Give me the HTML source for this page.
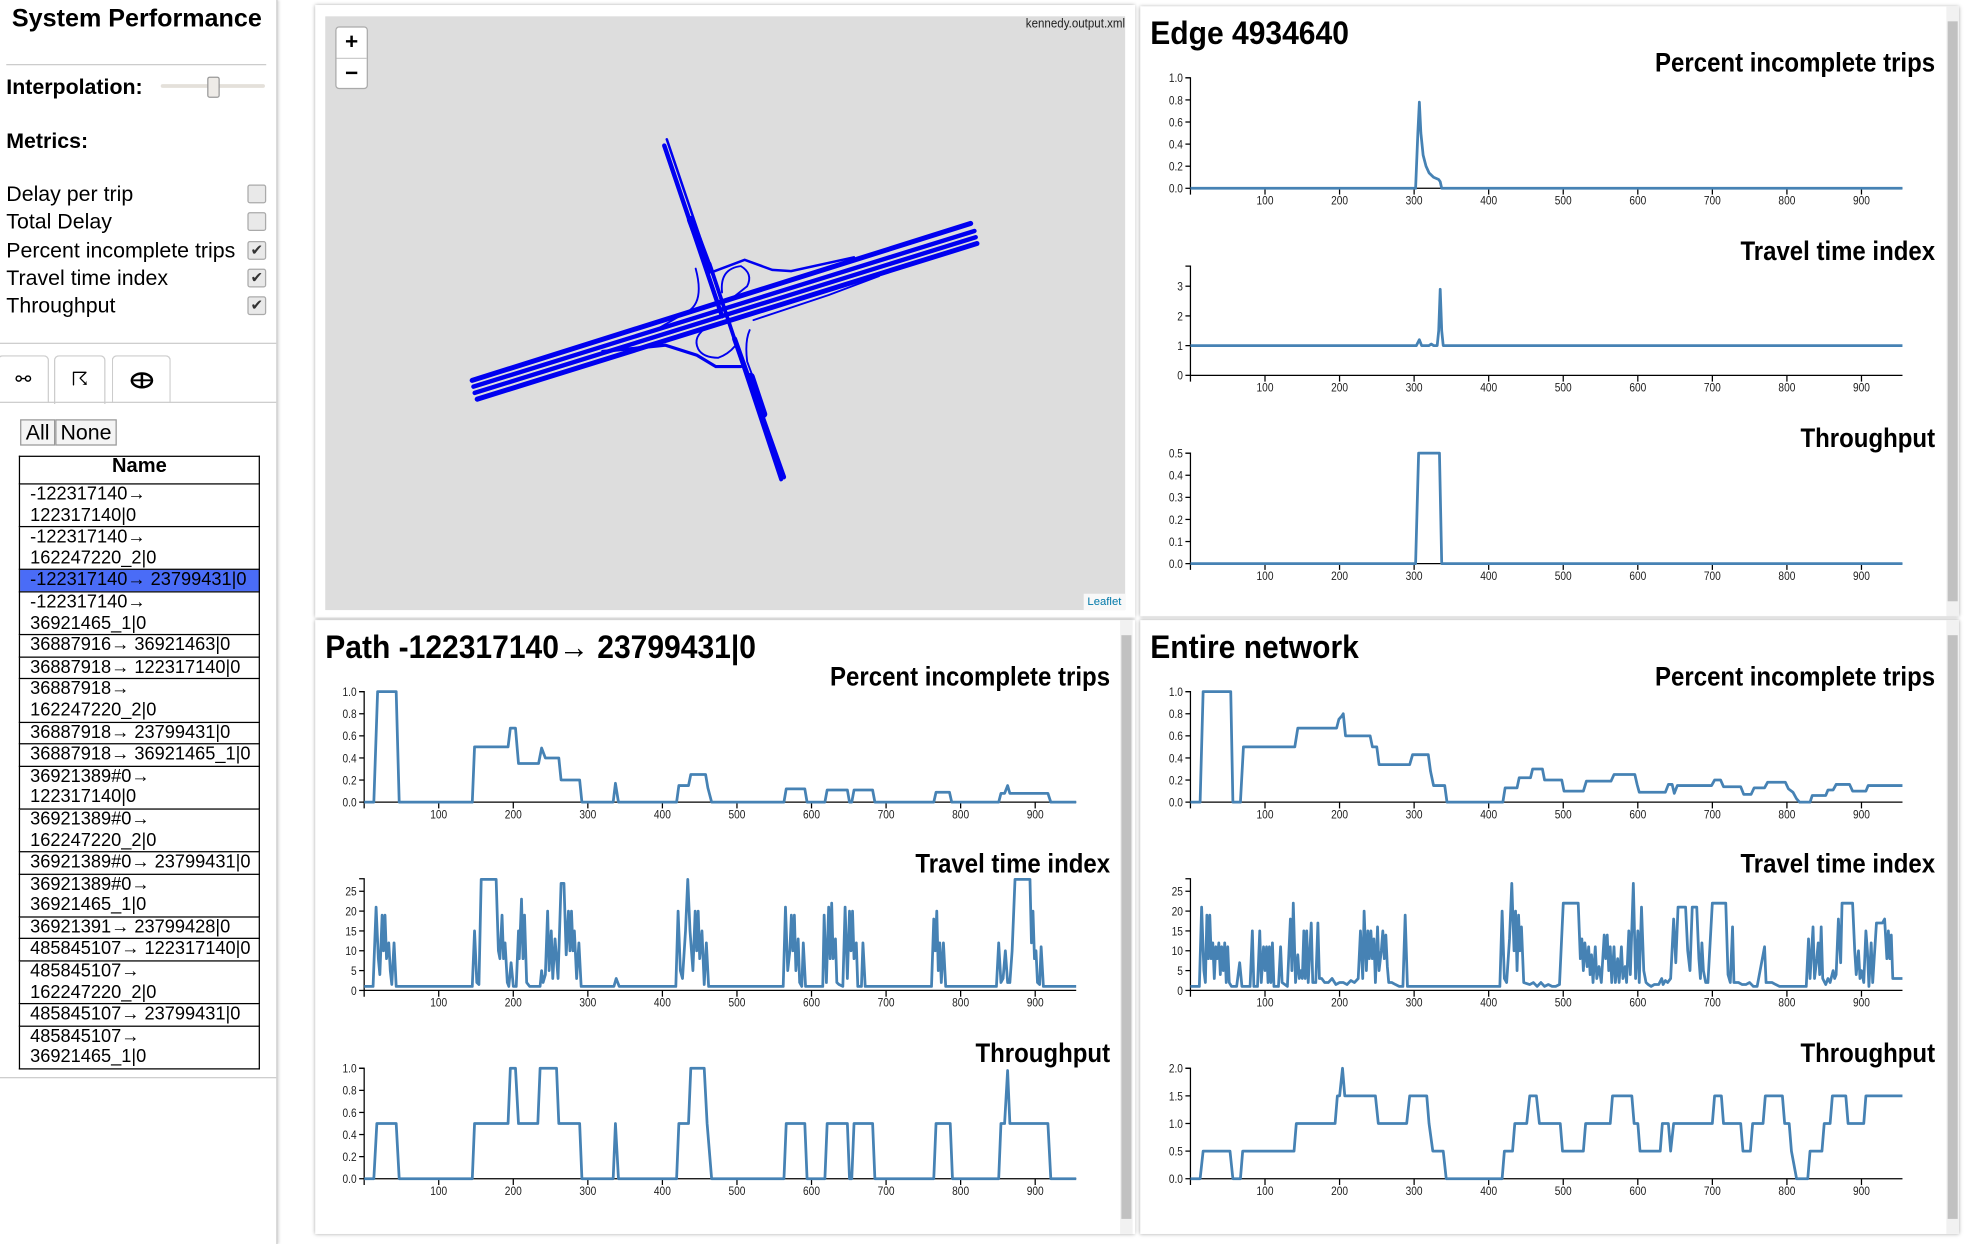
<!DOCTYPE html>
<html><head><meta charset="utf-8">
<style>
html,body{margin:0;padding:0;background:#fff;overflow:hidden;width:1969px;height:1244px}
#wrap{position:absolute;left:0;top:0;width:1568px;height:991px;transform-origin:0 0;transform:scale(1.25574,1.25530);font-family:"Liberation Sans",sans-serif;color:#000}
.abs{position:absolute}
.panel{position:absolute;background:#fff;box-shadow:0 0 3px rgba(0,0,0,0.35)}
.cb{position:absolute;left:197px;width:13px;height:13px;border:1px solid #aaa;border-radius:2px;background:#e9e9e9;font-size:12px;line-height:13px;text-align:center;color:#333}
.lbl{position:absolute;left:5px;font-size:17px}
.tab{position:absolute;top:283px;height:37px;border:1px solid #ccc;border-bottom:none;border-radius:4px 4px 0 0;background:#fff;text-align:center;font-size:15px;line-height:37px}
table{border-collapse:collapse;position:absolute;left:15px;top:363px;width:192px;font-size:14.5px;line-height:16.6px}
td,th{border:1px solid #000;padding:0 0 0 8px;text-align:left;vertical-align:top}
th{text-align:center;font-size:16px;height:21px;padding:0}
tr.sel td{background:#4a6cf7;color:#000}
.sb{position:absolute;width:10px;background:#f1f1f1}
.sb div{position:absolute;left:1px;width:8px;background:#c1c1c1}
</style></head><body>
<div id="wrap">
<div class="abs" style="left:0;top:0;width:220px;height:991px;border-right:1px solid #ccc;box-shadow:1px 0 2px rgba(0,0,0,0.15)">
  <div class="abs" style="left:0;width:218px;top:4px;text-align:center;font-weight:bold;font-size:20px">System Performance</div>
  <div class="abs" style="left:5px;top:51px;width:207px;height:1px;background:#ccc"></div>
  <div class="abs" style="left:5px;top:60px;font-weight:bold;font-size:17px">Interpolation:</div>
  <div class="abs" style="left:128px;top:67px;width:83px;height:3px;background:#e4e0da;border-radius:2px"></div>
  <div class="abs" style="left:165px;top:61px;width:8px;height:15px;background:#eeebe7;border:1px solid #999;border-radius:2px"></div>
  <div class="abs" style="left:5px;top:103px;font-weight:bold;font-size:17px">Metrics:</div>
  <div class="lbl" style="top:145px">Delay per trip</div>
  <div class="cb" style="top:147px"></div>
  <div class="lbl" style="top:167px">Total Delay</div>
  <div class="cb" style="top:169px"></div>
  <div class="lbl" style="top:190px">Percent incomplete trips</div>
  <div class="cb" style="top:192px">✔</div>
  <div class="lbl" style="top:212px">Travel time index</div>
  <div class="cb" style="top:214px">✔</div>
  <div class="lbl" style="top:234px">Throughput</div>
  <div class="cb" style="top:236px">✔</div>
  <div class="abs" style="left:0;top:273px;width:220px;height:1px;background:#ccc"></div>
  <div class="tab" style="left:-2px;width:39px">⚯</div>
  <div class="tab" style="left:43px;width:39px;height:38px">☈</div>
  <div class="tab" style="left:89px;width:45px"><svg width="20" height="14" style="margin-top:12px"><ellipse cx="10" cy="7" rx="8" ry="5.5" fill="none" stroke="#000" stroke-width="2"/><line x1="10" y1="1" x2="10" y2="13" stroke="#000" stroke-width="2"/><line x1="3" y1="7" x2="17" y2="7" stroke="#000" stroke-width="1.5"/></svg></div>
  <div class="abs" style="left:0;top:320px;width:220px;height:1px;background:#ccc"></div>
  <div class="abs" style="left:16px;top:334px;width:26px;height:19px;border:1px solid #999;background:#f4f4f4;font-size:17px;line-height:19px;text-align:center">All</div>
  <div class="abs" style="left:44px;top:334px;width:47px;height:19px;border:1px solid #999;background:#f4f4f4;font-size:17px;line-height:19px;text-align:center">None</div>
  <table>
    <tr><th>Name</th></tr>
    <tr><td>-122317140→<br>122317140|0</td></tr>
    <tr><td>-122317140→<br>162247220_2|0</td></tr>
    <tr class="sel"><td>-122317140→ 23799431|0</td></tr>
    <tr><td>-122317140→<br>36921465_1|0</td></tr>
    <tr><td>36887916→ 36921463|0</td></tr>
    <tr><td>36887918→ 122317140|0</td></tr>
    <tr><td>36887918→<br>162247220_2|0</td></tr>
    <tr><td>36887918→ 23799431|0</td></tr>
    <tr><td>36887918→ 36921465_1|0</td></tr>
    <tr><td>36921389#0→<br>122317140|0</td></tr>
    <tr><td>36921389#0→<br>162247220_2|0</td></tr>
    <tr><td>36921389#0→ 23799431|0</td></tr>
    <tr><td>36921389#0→<br>36921465_1|0</td></tr>
    <tr><td>36921391→ 23799428|0</td></tr>
    <tr><td>485845107→ 122317140|0</td></tr>
    <tr><td>485845107→<br>162247220_2|0</td></tr>
    <tr><td>485845107→ 23799431|0</td></tr>
    <tr><td>485845107→<br>36921465_1|0</td></tr>
  </table>
  <div class="abs" style="left:0;top:858px;width:220px;height:1px;background:#ccc"></div>
</div>

<div class="panel" style="left:251px;top:4px;width:653px;height:488px">
  <div class="abs" style="left:8px;top:9px;width:637px;height:473px;background:#ddd;overflow:hidden">
    <svg width="637" height="473" style="position:absolute;left:0;top:0">
      <g stroke="#0000f0" fill="none" stroke-linecap="round" transform="translate(-259,-13)">
        <line x1="376" y1="303" x2="773" y2="178" stroke-width="4"/>
        <line x1="377" y1="308" x2="776" y2="184" stroke-width="3.5"/>
        <line x1="378" y1="313" x2="777" y2="189" stroke-width="3.5"/>
        <line x1="380" y1="318" x2="778" y2="194" stroke-width="4"/>
        <line x1="531" y1="111" x2="595" y2="300" stroke-width="2"/>
        <line x1="529" y1="116" x2="575" y2="252" stroke-width="3.5"/>
        <line x1="550" y1="175" x2="565" y2="215" stroke-width="6"/>
        <line x1="565" y1="210" x2="622" y2="382" stroke-width="3"/>
        <line x1="585" y1="270" x2="624" y2="380" stroke-width="4"/>
        <line x1="598" y1="300" x2="608" y2="330" stroke-width="6"/>
        <path d="M554 214 Q561 240 548 248 L520 264 L460 283" stroke-width="1.5"/>
        <path d="M564 260 Q551 268 556 278 Q560 285 572 285 Q580 282 585 276" stroke-width="1.5"/>
        <path d="M575 233 Q573 214 590 212 Q600 218 595 228 L580 240" stroke-width="1.5"/>
        <path d="M569 216 L593 207 L615 215 L630 216 L680 205" stroke-width="2"/>
        <path d="M597 263 Q593 272 595 288 L605 315" stroke-width="1.5"/>
        <path d="M600 255 L660 235 L700 220" stroke-width="1.5"/>
        <path d="M480 280 L530 275 L555 283 L570 292 L590 292" stroke-width="2.5"/>
      </g>
    </svg>
    <div class="abs" style="left:8px;top:8px;width:24px;height:48px;border:1px solid #aaa;border-radius:3px;background:#fff">
      <div style="height:24px;border-bottom:1px solid #ccc;text-align:center;font:bold 18px/23px 'Liberation Sans',sans-serif">+</div>
      <div style="height:23px;text-align:center;font:bold 18px/22px 'Liberation Sans',sans-serif">−</div>
    </div>
    <div class="abs" style="right:0;top:1px;font-size:10px;color:#222;transform:scaleX(0.92);transform-origin:right">kennedy.output.xml</div>
    <div class="abs" style="right:0;bottom:0;padding:0 3px;background:rgba(255,255,255,0.8);font-size:9px;color:#0078A8;line-height:13px">Leaflet</div>
  </div>
</div>
<div class="panel" style="left:908px;top:5px;width:652px;height:486px">
  <div class="sb" style="left:642px;top:0;height:486px"><div style="top:12px;height:462px"></div></div>
</div>
<div class="panel" style="left:251px;top:494px;width:653px;height:489px">
  <div class="sb" style="left:641px;top:0;height:489px"><div style="top:12px;height:465px"></div></div>
</div>
<div class="panel" style="left:908px;top:494px;width:652px;height:489px">
  <div class="sb" style="left:642px;top:0;height:489px"><div style="top:12px;height:465px"></div></div>
</div>

<svg id="charts" width="1568" height="991" style="position:absolute;left:0;top:0;pointer-events:none"></svg>
</div>

<script>
const xTicks = [100,200,300,400,500,600,700,800,900];
const pitTicks = [0,0.2,0.4,0.6,0.8,1.0];
const tputTicksEdge = [0,0.1,0.2,0.3,0.4,0.5];
const ttiTicksEdge = [0,1,2,3];
const ttiTicks = [0,5,10,15,20,25];
const tputTicksNet = [0,0.5,1.0,1.5,2.0];

const edgePit = [[0,0],[302,0],[305,0.5],[307,0.78],[309,0.5],[312,0.3],[316,0.2],[320,0.14],[326,0.1],[333,0.08],[335,0.06],[337,0],[955,0]];
const edgeTti = [[0,1],[303,1],[307,1.2],[310,1],[320,1],[323,1.05],[326,1],[331,1],[333,1.5],[335,2.9],[337,1.5],[339,1],[955,1]];
const edgeTput = [[0,0],[302,0],[306,0.5],[334,0.5],[337,0],[955,0]];

const pathPit = [[0,0],[13,0],[18,1],[43,1],[47,0],[145,0],[148,0.5],[193,0.5],[196,0.67],[203,0.67],[207,0.35],[234,0.35],[238,0.49],[243,0.4],[261,0.4],[264,0.2],[289,0.2],[292,0],[334,0],[337,0.17],[341,0],[419,0],[422,0.15],[435,0.15],[438,0.25],[458,0.25],[461,0.13],[466,0],[563,0],[566,0.12],[591,0.12],[594,0],[618,0],[621,0.11],[648,0.11],[651,0],[654,0],[657,0.11],[682,0.11],[685,0],[764,0],[767,0.09],[785,0.09],[788,0],[851,0],[854,0.08],[859,0.08],[863,0.15],[866,0.08],[917,0.08],[921,0],[955,0]];
const pathTti = [[0,1],[12,1],[16,21],[19,8],[21,4],[24,19],[26,10],[28,19],[30,8],[33,12],[35,5],[37,1.5],[40,12],[43,1],[145,1],[148,15],[151,2],[154,1.5],[157,28],[177,28],[180,10],[182,8],[185,19],[187,8],[189,12],[192,2],[194,1],[197,7],[200,1],[204,1],[207,15],[208,8],[211,23],[213,8],[215,19],[218,2],[222,1],[236,1],[238,5],[240,2],[243,4],[246,20],[248,5],[251,15],[253,3],[256,13],[260,3],[264,27],[268,27],[271,9],[274,20],[276,10],[278,20],[280,10],[282,15],[285,3],[288,12],[291,1],[335,1],[338,3],[342,1],[418,1],[421,20],[424,5],[427,3],[431,15],[434,28],[437,15],[441,5],[444,20],[446,10],[448,20],[450,8],[453,15],[456,1.5],[459,12],[462,1],[562,1],[565,21],[568,5],[571,10],[573,19],[575,10],[577,19],[579,5],[582,13],[584,2],[587,1],[589,12],[592,1],[615,1],[617,19],[620,2],[623,21],[625,8],[627,22],[629,8],[632,13],[634,2],[637,1.5],[642,1],[645,21],[648,3],[651,20],[653,10],[655,20],[657,8],[660,12],[662,1],[667,1],[669,12],[672,1],[761,1],[764,18],[766,10],[768,20],[770,5],[772,12],[774,2],[777,12],[780,1],[848,1],[851,12],[854,2],[857,3],[860,10],[863,2],[866,2],[869,10],[873,28],[893,28],[895,12],[897,20],[899,8],[901,10],[903,2],[906,1.5],[908,11],[911,1],[955,1]];
const pathTput = [[0,0],[13,0],[17,0.5],[43,0.5],[47,0],[145,0],[148,0.5],[193,0.5],[196,1],[203,1],[207,0.5],[233,0.5],[236,1],[258,1],[261,0.5],[289,0.5],[292,0],[334,0],[337,0.5],[341,0],[419,0],[422,0.5],[435,0.5],[438,1],[456,1],[460,0.5],[466,0],[563,0],[566,0.5],[591,0.5],[594,0],[618,0],[621,0.5],[648,0.5],[651,0],[654,0],[657,0.5],[682,0.5],[685,0],[764,0],[767,0.5],[786,0.5],[789,0],[851,0],[854,0.5],[859,0.5],[863,0.98],[866,0.5],[917,0.5],[921,0],[955,0]];

const netPit = [[0,0],[13,0],[17,1],[54,1],[57,0],[67,0],[71,0.5],[140,0.5],[144,0.67],[196,0.67],[199,0.75],[203,0.78],[205,0.8],[208,0.6],[241,0.6],[244,0.5],[250,0.5],[253,0.34],[294,0.34],[298,0.43],[319,0.43],[322,0.28],[326,0.15],[341,0.15],[344,0],[419,0],[422,0.13],[438,0.13],[441,0.22],[456,0.22],[459,0.3],[472,0.3],[475,0.2],[498,0.2],[501,0.1],[527,0.1],[531,0.19],[564,0.19],[568,0.25],[596,0.25],[599,0.16],[602,0.09],[637,0.09],[641,0.16],[646,0.16],[649,0.08],[653,0.15],[699,0.15],[703,0.2],[711,0.2],[715,0.14],[738,0.14],[742,0.07],[752,0.07],[756,0.13],[770,0.13],[774,0.18],[798,0.18],[802,0.12],[808,0.09],[813,0.03],[817,0],[831,0],[834,0.06],[852,0.06],[855,0.11],[862,0.11],[866,0.16],[884,0.16],[888,0.1],[906,0.1],[909,0.15],[955,0.15]];
const netTti = [[0,1],[12,1],[15,21],[18,5],[20,2],[22,19],[24,8],[26,19],[28,8],[30,12],[32,3],[34,11],[36,8],[38,12],[40,4],[42,11],[44,5],[46,12],[48,2],[50,11],[52,2],[55,1],[62,1],[66,7],[69,1],[80,1],[83,15],[85,1],[90,1],[93,15],[95,2],[98,11],[100,5],[102,11],[104,2],[106,11],[108,2],[110,12],[112,1],[118,1],[121,11],[123,2],[130,1],[134,18],[136,5],[138,22],[141,2],[144,9],[146,3],[148,5],[150,3],[152,15],[154,3],[156,15],[158,2],[162,17],[164,2],[168,2],[171,17],[173,3],[176,3],[180,2],[185,2],[190,3],[195,1.5],[200,2],[205,2],[210,1.5],[215,2.5],[220,2],[225,3],[228,15],[231,3],[233,20],[236,5],[238,15],[240,8],[242,15],[244,8],[246,13],[248,2],[251,16],[253,5],[256,10],[258,15],[260,8],[262,14],[264,6],[266,2],[270,2],[275,1.5],[280,1],[285,1],[288,19],[291,1],[300,1],[340,1],[415,1],[418,20],[421,3],[424,2],[428,13],[431,27],[434,10],[436,20],[438,5],[440,19],[442,10],[444,16],[447,2],[455,1.5],[460,2],[465,1],[470,2],[475,1],[480,1.5],[485,1],[490,1],[495,1.5],[500,22],[520,22],[523,8],[525,13],[527,5],[529,12],[532,6],[534,11],[536,4],[538,9],[540,2],[543,11],[545,3],[548,6],[551,2],[555,14],[557,8],[559,14],[561,5],[563,11],[565,2],[568,11],[570,2],[573,8],[575,2],[578,11],[580,3],[583,6],[585,2],[588,15],[590,4],[594,27],[597,3],[600,15],[602,2],[605,21],[608,5],[611,2],[614,1.5],[618,1],[622,1.5],[628,1.5],[632,3],[634,1.5],[637,2.5],[640,2],[644,3],[648,18],[651,7],[654,21],[664,21],[667,10],[670,5],[673,21],[679,21],[682,8],[684,3],[686,12],[688,5],[691,2],[694,2],[700,22],[718,22],[721,4],[724,2],[727,16],[729,2],[735,2],[740,1.5],[745,1.5],[750,2],[755,1],[760,1],[770,11],[772,2],[780,2],[785,1.5],[790,1],[826,1],[829,13],[831,3],[835,16],[837,3],[840,8],[842,12],[844,4],[846,16],[848,3],[852,1.5],[855,3],[858,2],[862,5],[864,3],[866,4],[869,18],[872,7],[874,22],[888,22],[891,10],[893,4],[896,10],[898,3],[900,5],[903,2],[906,15],[908,10],[910,1],[913,12],[915,2],[920,17],[928,17],[931,18],[934,8],[936,15],[938,8],[940,14],[942,3],[955,3]];
const netTput = [[0,0],[13,0],[17,0.5],[53,0.5],[57,0],[67,0],[70,0.5],[139,0.5],[142,1],[194,1],[197,1.5],[200,1.5],[204,2],[207,1.5],[248,1.5],[252,1],[290,1],[294,1.5],[317,1.5],[320,1],[325,0.5],[339,0.5],[343,0],[418,0],[421,0.5],[432,0.5],[435,1],[451,1],[455,1.5],[464,1.5],[468,1],[496,1],[499,0.5],[527,0.5],[530,1],[563,1],[566,1.5],[592,1.5],[595,1],[600,1],[603,0.5],[630,0.5],[633,1],[641,1],[644,0.5],[648,1],[700,1],[703,1.5],[712,1.5],[715,1],[738,1],[741,0.5],[751,0.5],[754,1],[768,1],[771,1.5],[794,1.5],[797,1],[803,1],[806,0.5],[813,0],[828,0],[831,0.5],[847,0.5],[850,1],[858,1],[861,1.5],[879,1.5],[882,1],[903,1],[906,1.5],[955,1.5]];

const NS = "http://www.w3.org/2000/svg";
const root = document.getElementById('charts');
const FONT = '"Liberation Sans",sans-serif';

function mk(tag, attrs, parent){
  const e = document.createElementNS(NS, tag);
  for (const k in attrs) e.setAttribute(k, attrs[k]);
  (parent||root).appendChild(e);
  return e;
}
function txt(s, attrs, parent){ const t = mk('text', attrs, parent); t.textContent = s; return t; }
function squeeze(t, f){
  const w = t.getComputedTextLength();
  t.setAttribute('textLength', (w*f).toFixed(1));
  t.setAttribute('lengthAdjust', 'spacingAndGlyphs');
}

function panelTitle(s, x, y, name){
  const t = txt(s, {x:x, y:y, 'font-family':FONT, 'font-weight':'bold', 'font-size':26});
  
  
  squeeze(t, 0.92);
}

function chart(name, title, titleRight, x0, yb, yt, yMax, yAxisTop, yTicks, fmt, data){
  const g = mk('g', {});
  
  
  const xs = v => x0 + v * 0.59375;
  const ys = v => yb - v / yMax * (yb - yt);
  const tt = txt(title, {x:titleRight, y:yAxisTop - 5, 'text-anchor':'end', 'font-family':FONT, 'font-weight':'bold', 'font-size':21}, g);
  
  
  squeeze(tt, 0.91);
  const ya = mk('path', {d:`M${x0-4},${yAxisTop}H${x0}V${yb+5}`, stroke:'#000', fill:'none', 'stroke-width':1}, g);
  
  
  yTicks.forEach(v => {
    mk('line', {x1:x0-4, x2:x0, y1:ys(v), y2:ys(v), stroke:'#000'}, g);
    const l = txt(fmt(v), {x:x0-6, y:ys(v)+3.5, 'text-anchor':'end', 'font-family':FONT, 'font-size':9.5, fill:'#222'}, g);
    
    
    squeeze(l, 0.85);
  });
  const xa = mk('path', {d:`M${x0},${yb}H${xs(955)}`, stroke:'#000', fill:'none'}, g);
  
  
  xTicks.forEach(v => {
    mk('line', {x1:xs(v), x2:xs(v), y1:yb, y2:yb+5, stroke:'#000'}, g);
    const l = txt(String(v), {x:xs(v), y:yb+13, 'text-anchor':'middle', 'font-family':FONT, 'font-size':9.5, fill:'#222'}, g);
    
    
    squeeze(l, 0.85);
  });
  const d = data.map((p,i) => (i?'L':'M') + xs(p[0]).toFixed(1) + ',' + ys(p[1]).toFixed(1)).join('');
  const ln = mk('path', {d:d, stroke:'#4682b4', fill:'none', 'stroke-width':2.2, 'stroke-linejoin':'round'}, g);
  
  
}
const f1 = v => v.toFixed(1);
const f0 = v => String(v);

panelTitle('Edge 4934640', 916, 35, 'edge-title');
chart('edge-pit-chart','Percent incomplete trips',1541,948,150,62,1.0,62,pitTicks,f1,edgePit);
chart('edge-tti-chart','Travel time index',1541,948,299,228,3,212,ttiTicksEdge,f0,edgeTti);
chart('edge-throughput-chart','Throughput',1541,948,449,361,0.5,361,tputTicksEdge,f1,edgeTput);

panelTitle('Path -122317140→ 23799431|0', 259, 524, 'path-title');
chart('path-pit-chart','Percent incomplete trips',884,290,639,551,1.0,551,pitTicks,f1,pathPit);
chart('path-tti-chart','Travel time index',884,290,789,710,25,700,ttiTicks,f0,pathTti);
chart('path-throughput-chart','Throughput',884,290,939,851,1.0,851,pitTicks,f1,pathTput);

panelTitle('Entire network', 916, 524, 'network-title');
chart('network-pit-chart','Percent incomplete trips',1541,948,639,551,1.0,551,pitTicks,f1,netPit);
chart('network-tti-chart','Travel time index',1541,948,789,710,25,700,ttiTicks,f0,netTti);
chart('network-throughput-chart','Throughput',1541,948,939,851,2.0,851,tputTicksNet,f1,netTput);
</script>
</body></html>
